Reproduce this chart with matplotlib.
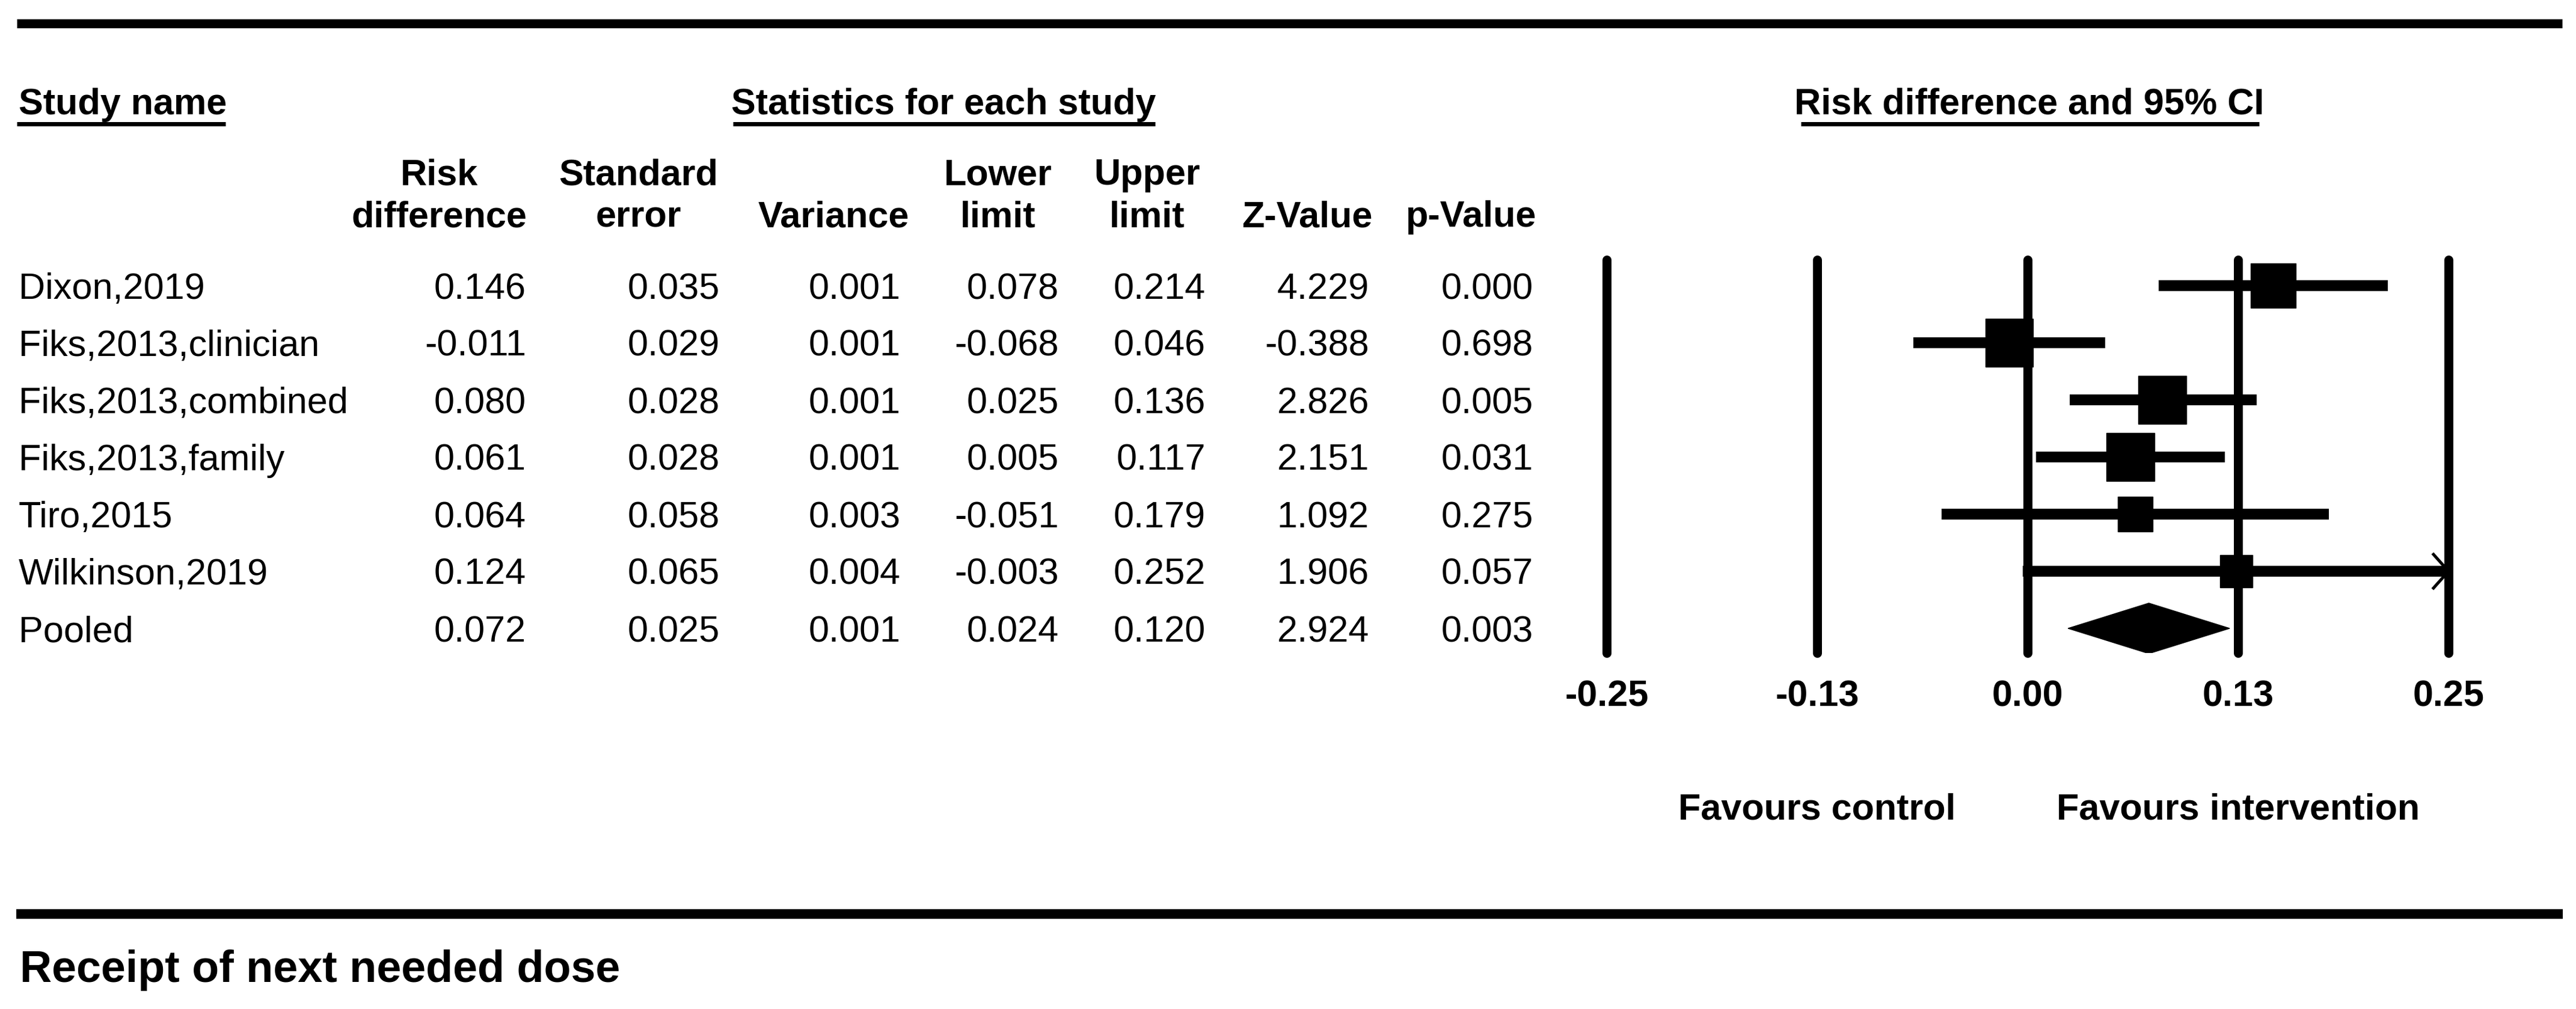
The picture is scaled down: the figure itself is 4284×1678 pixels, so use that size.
import numpy as np
import matplotlib.pyplot as plt
from matplotlib.lines import Line2D
from matplotlib.patches import Rectangle, Polygon

plt.rcParams['font.family'] = ['Liberation Sans', 'DejaVu Sans']

studies = ['Dixon,2019', 'Fiks,2013,clinician', 'Fiks,2013,combined', 'Fiks,2013,family',
           'Tiro,2015', 'Wilkinson,2019', 'Pooled']
risk_diff = [0.146, -0.011, 0.080, 0.061, 0.064, 0.124, 0.072]
std_err = [0.035, 0.029, 0.028, 0.028, 0.058, 0.065, 0.025]
variance = [0.001, 0.001, 0.001, 0.001, 0.003, 0.004, 0.001]
lower = [0.078, -0.068, 0.025, 0.005, -0.051, -0.003, 0.024]
upper = [0.214, 0.046, 0.136, 0.117, 0.179, 0.252, 0.120]
z_value = [4.229, -0.388, 2.826, 2.151, 1.092, 1.906, 2.924]
p_value = [0.000, 0.698, 0.005, 0.031, 0.275, 0.057, 0.003]

ticks = [-0.25, -0.125, 0.0, 0.125, 0.25]
tick_labels = ['-0.25', '-0.13', '0.00', '0.13', '0.25']

W, H = 4284, 1678
fig = plt.figure(figsize=(W / 100, H / 100), dpi=100)
fs = 44
PT = 0.72  # points per pixel at 100 dpi


def fx(x):
    return x / W


def fy(y):
    return 1 - y / H


def rule(x0, x1, y, px):
    fig.add_artist(Line2D([fx(x0), fx(x1)], [fy(y), fy(y)], lw=px * PT,
                          color='black', solid_capstyle='butt'))


# top / bottom rules
rule(28, 4261, 39, 15)
rule(27, 4262, 1520, 16)

# section headers with underline
fig.text(fx(31), fy(190), 'Study name', fontsize=fs, fontweight='bold', va='baseline')
rule(28, 375, 206, 7)
fig.text(fx(1569), fy(190), 'Statistics for each study', fontsize=fs, fontweight='bold',
         va='baseline', ha='center')
rule(1219, 1921, 206, 7)
fig.text(fx(3375), fy(190), 'Risk difference and 95% CI', fontsize=fs, fontweight='bold',
         va='baseline', ha='center')
rule(2995, 3757, 206, 7)

# column headers
col_head = [('Risk', 'difference'), ('Standard', 'error'), ('', 'Variance'),
            ('Lower', 'limit'), ('Upper', 'limit'), ('', 'Z-Value'), ('', 'p-Value')]
head_x = [730, 1062, 1386, 1660, 1908, 2174, 2447]
val_x = [875, 1197, 1498, 1761, 2005, 2277, 2550]
for (l1, l2), hx in zip(col_head, head_x):
    if l1:
        fig.text(fx(hx), fy(307), l1, fontsize=fs, fontweight='bold', ha='center', va='baseline')
    fig.text(fx(hx), fy(377), l2, fontsize=fs, fontweight='bold', ha='center', va='baseline')

# table rows
row0, row_h = 475, 95
cols = [risk_diff, std_err, variance, lower, upper, z_value, p_value]
for i, name in enumerate(studies):
    yb = row0 + row_h * i + 22
    fig.text(fx(31), fy(yb), name, fontsize=fs, va='baseline')
    for vals, vx in zip(cols, val_x):
        fig.text(fx(vx), fy(yb), f'{vals[i]:.3f}', fontsize=fs, ha='right', va='baseline')

# forest plot
ax_l, ax_r, ax_t, ax_b = 2672, 4072, 432, 1086
ax = fig.add_axes([fx(ax_l), fy(ax_b), (ax_r - ax_l) / W, (ax_b - ax_t) / H])
ax.set_xlim(-0.25, 0.25)
ax.set_ylim((ax_b - row0) / row_h, (ax_t - row0) / row_h)
for s in ax.spines.values():
    s.set_visible(False)
ax.set_yticks([])
ax.set_xticks(ticks, tick_labels)
ax.tick_params(axis='x', length=0, pad=32)
for lab in ax.get_xticklabels():
    lab.set_fontsize(fs)
    lab.set_fontweight('bold')

for t in ticks:
    ax.axvline(t, color='black', lw=15 * PT, solid_capstyle='round', clip_on=False, zorder=1)

x_scale = (ax_r - ax_l) / 0.5  # px per unit
tau2 = 0.0022
weights = [1 / (se ** 2 + tau2) for se in std_err[:-1]]
wmax = max(weights)
xmax = ticks[-1]
for i in range(len(studies) - 1):
    hi = min(upper[i], xmax)
    ax.plot([lower[i], hi], [i, i], color='black', lw=18 * PT, solid_capstyle='butt', zorder=2)
    side = 80 * np.sqrt(weights[i] / wmax)
    ax.add_patch(Rectangle((risk_diff[i] - side / 2 / x_scale, i - side / 2 / row_h),
                           side / x_scale, side / row_h, color='black', zorder=3))
    if upper[i] > xmax:
        ax.plot([xmax - 25 / x_scale, xmax, xmax - 25 / x_scale],
                [i - 28 / row_h, i, i + 28 / row_h], color='black', lw=5 * PT, zorder=3)

k = len(studies) - 1
dh = 42 / row_h
ax.add_patch(Polygon([(lower[k], k), (risk_diff[k], k - dh), (upper[k], k), (risk_diff[k], k + dh)],
                     closed=True, color='black', zorder=3))

tr = ax.get_xaxis_transform()
yfav = (ax_b - 1362) / (ax_b - ax_t)
ax.text(-0.125, yfav, 'Favours control', transform=tr, fontsize=fs, fontweight='bold',
        ha='center', va='baseline')
ax.text(0.125, yfav, 'Favours intervention', transform=tr, fontsize=fs, fontweight='bold',
        ha='center', va='baseline')

fig.text(fx(33), fy(1633), 'Receipt of next needed dose', fontsize=53, fontweight='bold',
         va='baseline')

fig.savefig('out.png', dpi=100, facecolor='white')
